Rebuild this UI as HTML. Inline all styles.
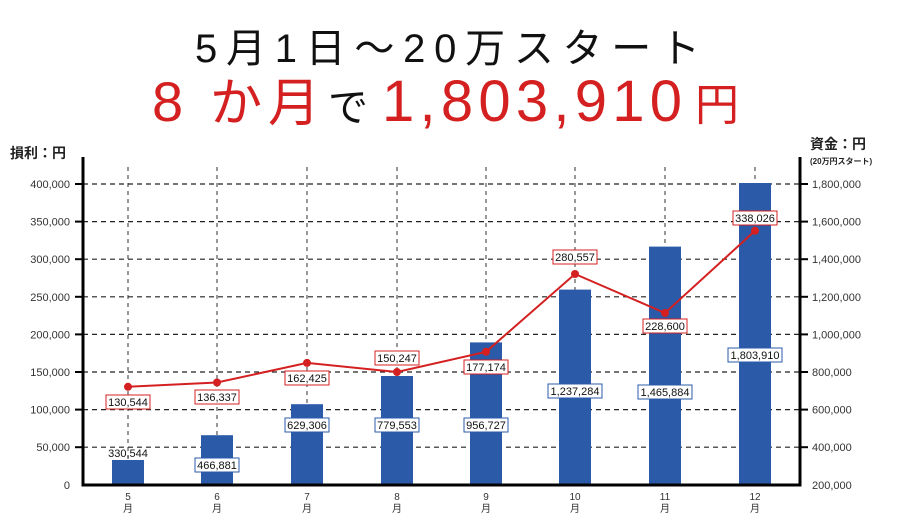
<!DOCTYPE html>
<html><head><meta charset="utf-8"><style>
html,body{margin:0;padding:0;background:#fff;}
svg{display:block;}
text{font-family:"Liberation Sans","Noto Sans CJK JP",sans-serif;}
</style></head><body>
<svg width="900" height="528" viewBox="0 0 900 528" xmlns="http://www.w3.org/2000/svg">
<text x="195" y="62" font-size="40" fill="#111" textLength="505" lengthAdjust="spacing">5月1日～20万スタート</text>
<text x="152" y="121" font-size="56" fill="#d42020" textLength="70" lengthAdjust="spacing">8</text>
<text x="210" y="121" font-size="52" fill="#d42020" textLength="110" lengthAdjust="spacing">か月</text>
<text x="328" y="121" font-size="40" fill="#111">で</text>
<text x="382" y="121" font-size="58" fill="#d42020" textLength="300" lengthAdjust="spacing">1,803,910</text>
<text x="695" y="120" font-size="44" fill="#d42020">円</text>

<text x="10" y="158" font-size="14" font-weight="bold" fill="#222">損利：円</text>
<text x="810" y="149" font-size="14" font-weight="bold" fill="#222">資金：円</text>
<text x="810" y="164" font-size="8" font-weight="bold" fill="#222">(20万円スタート)</text>

<g stroke="#555" stroke-width="1.2" stroke-dasharray="4,4">
<line x1="128" y1="167" x2="128" y2="485"/><line x1="217" y1="167" x2="217" y2="485"/>
<line x1="307" y1="167" x2="307" y2="485"/><line x1="397" y1="167" x2="397" y2="485"/>
<line x1="486" y1="167" x2="486" y2="485"/><line x1="575" y1="167" x2="575" y2="485"/>
<line x1="665" y1="167" x2="665" y2="485"/><line x1="755" y1="167" x2="755" y2="485"/>
</g>
<g stroke="#222" stroke-width="1.2" stroke-dasharray="5,4">
<line x1="83" y1="184" x2="800" y2="184"/><line x1="83" y1="221.6" x2="800" y2="221.6"/>
<line x1="83" y1="259.2" x2="800" y2="259.2"/><line x1="83" y1="296.8" x2="800" y2="296.8"/>
<line x1="83" y1="334.4" x2="800" y2="334.4"/><line x1="83" y1="372" x2="800" y2="372"/>
<line x1="83" y1="409.6" x2="800" y2="409.6"/><line x1="83" y1="447.2" x2="800" y2="447.2"/>
</g>
<g fill="#2b5aa8">
<rect x="112" y="460" width="32" height="25"/>
<rect x="201" y="435.2" width="32" height="49.8"/>
<rect x="291" y="404.2" width="32" height="80.8"/>
<rect x="381" y="376" width="32" height="109"/>
<rect x="470" y="342.4" width="32" height="142.6"/>
<rect x="559" y="289.6" width="32" height="195.4"/>
<rect x="649" y="246.6" width="32" height="238.4"/>
<rect x="739" y="183" width="32" height="302"/>
</g>
<g stroke="#000" stroke-width="3" fill="none">
<line x1="83" y1="157" x2="83" y2="486"/>
<line x1="800" y1="157" x2="800" y2="486"/>
<line x1="81.5" y1="485" x2="801.5" y2="485"/>
</g>
<g stroke="#000" stroke-width="2">
<line x1="75" y1="184" x2="83" y2="184"/><line x1="75" y1="221.6" x2="83" y2="221.6"/>
<line x1="75" y1="259.2" x2="83" y2="259.2"/><line x1="75" y1="296.8" x2="83" y2="296.8"/>
<line x1="75" y1="334.4" x2="83" y2="334.4"/><line x1="75" y1="372" x2="83" y2="372"/>
<line x1="75" y1="409.6" x2="83" y2="409.6"/><line x1="75" y1="447.2" x2="83" y2="447.2"/>
<line x1="800" y1="184" x2="808" y2="184"/><line x1="800" y1="221.6" x2="808" y2="221.6"/>
<line x1="800" y1="259.2" x2="808" y2="259.2"/><line x1="800" y1="296.8" x2="808" y2="296.8"/>
<line x1="800" y1="334.4" x2="808" y2="334.4"/><line x1="800" y1="372" x2="808" y2="372"/>
<line x1="800" y1="409.6" x2="808" y2="409.6"/><line x1="800" y1="447.2" x2="808" y2="447.2"/>
</g>
<g font-size="11" fill="#333" text-anchor="end">
<text x="70" y="188">400,000</text><text x="70" y="225.6">350,000</text>
<text x="70" y="263.2">300,000</text><text x="70" y="300.8">250,000</text>
<text x="70" y="338.4">200,000</text><text x="70" y="376">150,000</text>
<text x="70" y="413.6">100,000</text><text x="70" y="451.2">50,000</text>
<text x="70" y="489">0</text>
</g>
<g font-size="11" fill="#333">
<text x="812" y="188">1,800,000</text><text x="812" y="225.6">1,600,000</text>
<text x="812" y="263.2">1,400,000</text><text x="812" y="300.8">1,200,000</text>
<text x="812" y="338.4">1,000,000</text><text x="812" y="376">800,000</text>
<text x="812" y="413.6">600,000</text><text x="812" y="451.2">400,000</text>
<text x="812" y="489">200,000</text>
</g>
<g font-size="10" fill="#333" text-anchor="middle">
<text x="128" y="500">5</text><text x="128" y="512">月</text>
<text x="217" y="500">6</text><text x="217" y="512">月</text>
<text x="307" y="500">7</text><text x="307" y="512">月</text>
<text x="397" y="500">8</text><text x="397" y="512">月</text>
<text x="486" y="500">9</text><text x="486" y="512">月</text>
<text x="575" y="500">10</text><text x="575" y="512">月</text>
<text x="665" y="500">11</text><text x="665" y="512">月</text>
<text x="755" y="500">12</text><text x="755" y="512">月</text>
</g>
<polyline fill="none" stroke="#d42020" stroke-width="2" points="128,386.8 217,382.5 307,362.9 397,372 486,351.8 575,274 665,313 755,230.8"/>
<g fill="#d42020">
<circle cx="128" cy="386.8" r="4"/><circle cx="217" cy="382.5" r="4"/><circle cx="307" cy="362.9" r="4"/>
<circle cx="397" cy="372" r="4"/><circle cx="486" cy="351.8" r="4"/><circle cx="575" cy="274" r="4"/>
<circle cx="665" cy="313" r="4"/><circle cx="755" cy="230.8" r="4"/>
</g>
<g fill="#fff" stroke="#d42020" stroke-width="1">
<rect x="106" y="395" width="44" height="14"/><rect x="195" y="390" width="44" height="14"/>
<rect x="285" y="371" width="44" height="14"/><rect x="375" y="351" width="44" height="14"/>
<rect x="464" y="360" width="44" height="14"/><rect x="553" y="250" width="44" height="14"/>
<rect x="643" y="319" width="44" height="14"/><rect x="733" y="211" width="44" height="14"/>
</g>
<g fill="#fff" stroke="#2b5aa8" stroke-width="1">
<rect x="195" y="458" width="44" height="14"/><rect x="285" y="418" width="44" height="14"/>
<rect x="375" y="418" width="44" height="14"/><rect x="464" y="418" width="44" height="14"/>
<rect x="548" y="384" width="54" height="14"/><rect x="638" y="385" width="54" height="14"/>
<rect x="728" y="348" width="54" height="14"/>
</g>
<g font-size="11" fill="#111" text-anchor="middle">
<text x="128" y="406">130,544</text><text x="217" y="401">136,337</text>
<text x="307" y="382">162,425</text><text x="397" y="362">150,247</text>
<text x="486" y="371">177,174</text><text x="575" y="261">280,557</text>
<text x="665" y="330">228,600</text><text x="755" y="222">338,026</text>
<text x="128" y="457">330,544</text><text x="217" y="469">466,881</text>
<text x="307" y="429">629,306</text><text x="397" y="429">779,553</text>
<text x="486" y="429">956,727</text><text x="575" y="395">1,237,284</text>
<text x="665" y="396">1,465,884</text><text x="755" y="359">1,803,910</text>
</g>
</svg>
</body></html>
